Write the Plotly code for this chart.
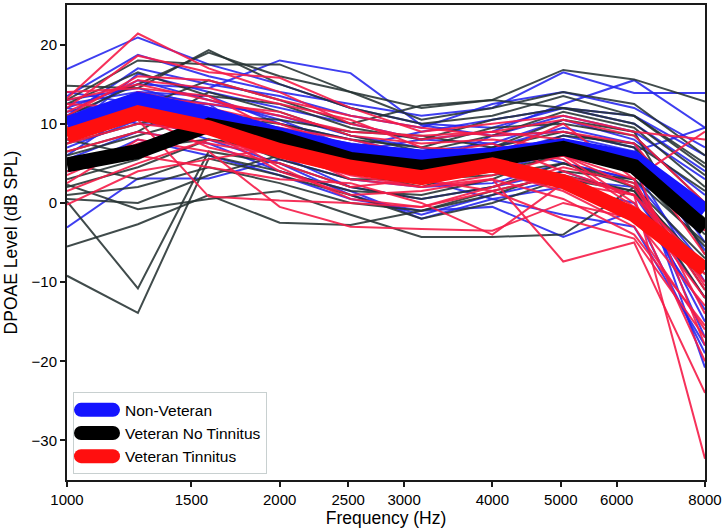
import math
import plotly.graph_objects as go

# Frequencies (Hz), 1/3-octave steps
freqs = [1000, 1260, 1587, 2000, 2520, 3175, 4000, 5040, 6350, 8000]

# Group means (dB SPL)
mean_nonvet = [10.0, 13.1, 11.2, 8.6, 6.6, 5.8, 6.0, 7.2, 5.6, -1.0]
mean_vet_notin = [4.8, 6.5, 9.8, 8.2, 5.5, 4.5, 5.5, 6.9, 4.6, -3.2]
mean_vet_tin = [8.5, 11.4, 9.5, 6.6, 4.5, 3.2, 4.8, 2.7, -1.5, -8.4]

# Individual subjects: Non-Veteran
nonvet_subjects = [
    [16.9, 20.9, 17.5, 15.0, 12.0, 10.0, 9.5, 12.0, 11.0, 6.0],
    [12.0, 15.0, 14.5, 18.0, 16.4, 9.8, 8.5, 11.0, 9.0, 3.0],
    [13.5, 18.7, 16.0, 14.0, 12.5, 11.0, 12.0, 16.5, 13.9, 13.9],
    [11.0, 17.0, 15.0, 13.5, 11.0, 9.5, 12.5, 14.0, 12.0, 7.0],
    [9.0, 16.3, 14.0, 12.0, 10.0, 8.0, 9.0, 12.5, 15.5, 9.5],
    [-3.1, 3.1, 3.1, 5.5, 3.0, 2.0, 2.5, 5.0, 3.0, -8.0],
    [7.0, 10.5, 9.0, 6.0, 2.0, 0.5, 2.0, 4.0, 1.0, -12.0],
    [12.5, 14.0, 13.5, 10.0, 8.0, 6.0, 7.0, 9.5, 7.5, -5.0],
    [6.0, 12.0, 12.5, 11.0, 8.5, 7.0, 5.0, 8.0, 6.0, -3.0],
    [10.5, 15.5, 13.0, 10.5, 7.0, 4.0, 5.5, 6.0, 4.5, -10.0],
    [8.0, 11.0, 8.0, 5.0, 1.0, -1.5, 1.0, 3.0, 2.0, -15.0],
    [4.0, 8.0, 6.0, 3.5, 0.5, -1.0, -0.5, -4.3, -1.0, -19.0],
    [13.0, 14.5, 12.0, 9.0, 7.5, 6.5, 7.5, 10.5, 8.0, 1.0],
    [11.5, 13.0, 11.0, 8.0, 5.0, 3.5, 4.0, 6.5, 5.0, -20.8],
    [9.5, 13.5, 10.0, 7.5, 6.0, 5.5, 6.0, 8.5, 6.5, 9.5],
    [7.5, 12.5, 10.5, 8.5, 6.5, 8.0, 7.5, 5.0, 3.0, -17.0],
    [12.0, 10.0, 9.5, 7.0, 4.5, 3.0, 0.5, 2.0, 0.0, -13.5],
    [10.0, 14.0, 12.5, 6.5, 5.5, 4.5, 8.5, 9.0, 7.0, -6.0],
    [14.0, 12.5, 10.5, 9.5, 7.0, 9.0, 10.5, 12.0, 10.0, 4.0],
    [5.5, 9.0, 7.5, 4.0, 1.5, -2.0, 0.5, -1.5, -3.0, -18.0],
]

# Individual subjects: Veteran No Tinnitus
vet_notin_subjects = [
    [-9.2, -13.9, 5.6, 3.5, 1.0, -2.0, 0.0, 3.0, 1.5, -12.0],
    [0.2, -10.8, 6.5, 5.0, 2.0, 0.5, 2.0, 5.0, 2.0, -9.0],
    [-5.5, -2.7, 1.0, -2.5, -2.8, -1.0, 1.0, 4.0, 3.0, -5.0],
    [2.3, -0.8, 0.5, 1.5, -1.5, -4.3, -4.3, -4.0, 2.0, -7.0],
    [14.8, 14.5, 19.3, 15.0, 12.0, 10.0, 11.0, 13.5, 11.0, 5.0],
    [13.0, 18.0, 17.5, 17.5, 14.0, 12.0, 13.0, 16.8, 15.6, 12.8],
    [11.0, 15.0, 19.0, 16.0, 14.0, 10.5, 12.0, 14.0, 12.5, 6.0],
    [4.0, 7.0, 8.0, 6.5, 4.0, 2.0, 5.0, 8.0, 6.0, -2.0],
    [7.5, 10.0, 12.0, 9.0, 6.0, 5.0, 7.0, 9.0, 7.0, -1.0],
    [2.0, 4.5, 8.0, 7.0, 4.5, 3.5, 4.0, 6.0, 4.0, -5.5],
    [6.5, 9.0, 14.0, 11.5, 8.5, 6.5, 8.5, 11.5, 9.5, 2.0],
    [9.0, 12.0, 15.5, 13.0, 10.0, 12.3, 13.0, 12.0, 10.0, 3.5],
    [5.0, 3.0, 6.0, 4.0, 1.5, 1.0, 3.0, 6.5, 5.0, -4.0],
    [3.0, 5.5, 10.0, 8.0, 6.5, 5.5, 5.5, 7.0, 4.5, -3.5],
    [10.5, 13.0, 11.0, 10.0, 8.0, 7.0, 9.5, 10.0, 8.5, 0.0],
    [1.0, 2.0, 4.5, 2.5, 0.0, -1.0, 1.5, 3.5, 1.5, -8.0],
    [12.5, 16.5, 13.5, 12.5, 9.5, 8.0, 10.5, 12.0, 11.0, 4.5],
    [8.0, 6.0, 9.0, 5.5, 3.0, 3.0, 3.5, 5.0, 2.5, -11.0],
    [6.0, 8.5, 11.0, 10.5, 9.0, 8.5, 7.0, 10.5, 9.0, -6.5],
    [0.5, 0.0, 3.5, 6.0, 5.0, 4.0, 5.5, 8.5, 7.5, 1.5],
]

# Individual subjects: Veteran Tinnitus
vet_tin_subjects = [
    [13.2, 21.4, 17.0, 14.0, 10.0, 8.0, 9.0, 10.5, 8.5, 0.0],
    [12.0, 18.6, 16.5, 15.8, 12.0, 9.0, 10.0, 11.0, 9.0, 8.0],
    [-0.2, 4.0, 5.5, 7.0, 5.5, 4.0, 5.0, 6.0, 3.0, -14.0],
    [10.0, 10.5, 0.8, 0.3, 0.0, -0.5, 1.5, 3.5, 1.0, -10.0],
    [1.5, 5.0, 8.0, 6.0, 3.5, 2.0, 3.0, -7.4, -5.0, -24.0],
    [8.0, 12.0, 11.0, 9.5, 8.0, 6.0, 7.5, 4.0, 1.0, -32.3],
    [13.0, 15.0, 13.0, 11.0, 9.0, 8.5, 9.0, 8.0, 5.0, -18.0],
    [6.5, 9.0, 7.5, 6.0, 4.0, 2.5, 4.0, 1.5, -3.0, -16.0],
    [9.5, 14.0, 12.0, 10.0, 7.0, 6.5, 6.0, 10.0, 3.0, 9.0],
    [2.5, 8.0, 6.5, -0.5, -3.0, -3.3, -3.5, 0.0, -2.0, -13.0],
    [11.5, 15.5, 14.5, 12.5, 10.5, 7.0, 6.5, 6.0, 2.0, -11.0],
    [5.0, 7.0, 10.0, 8.5, 5.5, 4.5, 6.5, 5.5, -0.5, -20.0],
    [14.0, 14.5, 13.5, 9.0, 6.5, 4.5, 5.0, 2.0, -1.5, -9.0],
    [7.5, 10.0, 9.0, 4.0, 1.0, 1.5, 3.0, 0.5, -4.0, -15.5],
    [12.5, 12.0, 10.0, 7.0, 3.0, 2.0, 3.5, 6.0, 0.0, -12.0],
    [4.0, 6.0, 4.5, 3.0, 2.5, 0.0, -4.0, 2.5, 1.0, -8.0],
    [10.5, 13.5, 12.5, 11.5, 8.5, 7.5, 8.0, 7.0, 6.0, -6.5],
    [9.0, 11.0, 7.0, 5.0, 2.0, 3.0, 1.5, -2.0, -4.5, -17.0],
    [3.5, 7.5, 9.5, 4.5, 0.5, -0.5, 2.0, 4.5, 2.5, -10.5],
    [11.0, 16.0, 15.5, 13.0, 11.0, 9.5, 8.5, 9.0, 7.5, -3.5],
]

group_names = ["Non-Veteran", "Veteran No Tinnitus", "Veteran Tinnitus"]
thin_colors = ["rgba(35,35,238,0.88)", "rgba(38,50,50,0.88)", "rgba(245,28,72,0.9)"]
mean_colors = ["#1414ff", "#000000", "#ff0f0f"]

x_ticks = [1000, 1500, 2000, 2500, 3000, 4000, 5000, 6000, 8000]
y_ticks = [-30, -20, -10, 0, 10, 20]

fig = go.Figure()

for subjects, col in zip([nonvet_subjects, vet_notin_subjects, vet_tin_subjects], thin_colors):
    for s in subjects:
        fig.add_trace(go.Scatter(x=freqs, y=s, mode="lines",
                                 line=dict(color=col, width=2),
                                 showlegend=False, hoverinfo="skip"))

for name, m, col in zip(group_names, [mean_nonvet, mean_vet_notin, mean_vet_tin], mean_colors):
    fig.add_trace(go.Scatter(x=freqs, y=m, mode="lines", name=name,
                             line=dict(color=col, width=15)))

font_family = "Liberation Sans, Arial, sans-serif"

fig.update_layout(
    width=725, height=531,
    margin=dict(l=67, r=19, t=3, b=51),
    paper_bgcolor="white", plot_bgcolor="white",
    font=dict(family=font_family, size=15, color="black"),
    showlegend=True,
    legend=dict(x=0.0094, y=0.012, xanchor="left", yanchor="bottom",
                bordercolor="#c8d0d0", borderwidth=1, bgcolor="white",
                font=dict(size=15.5), itemwidth=41, tracegroupgap=0),
    xaxis=dict(type="log", range=[math.log10(1000), math.log10(8000)],
               tickvals=x_ticks, ticktext=[str(v) for v in x_ticks],
               showgrid=False, zeroline=False, showline=True, linecolor="#1a1a1a",
               linewidth=2, mirror=True, ticks="outside", ticklen=5, tickwidth=1.5,
               tickcolor="#1a1a1a",
               title=dict(text="Frequency (Hz)", font=dict(size=17.5), standoff=5)),
    yaxis=dict(range=[-35, 25], tickvals=y_ticks,
               showgrid=False, zeroline=False, showline=True, linecolor="#1a1a1a",
               linewidth=2, mirror=True, ticks="outside", ticklen=5, tickwidth=1.5,
               tickcolor="#1a1a1a",
               title=dict(text="DPOAE Level (dB SPL)", font=dict(size=17.5), standoff=9)),
)

post = """
document.body.style.margin = '0';
document.querySelectorAll('.legend .traces').forEach(function(g){
  var t = g.querySelector('.legendtext');
  var p = g.querySelector('.legendlines path');
  if (!t || !p) return;
  var tx = parseFloat(t.getAttribute('x')) || 40;
  p.setAttribute('d', 'M' + (tx - 44) + ',0h32');
  p.style.strokeWidth = '14px';
  p.style.strokeLinecap = 'round';
});
"""

fig.write_html("out.html", post_script=post, config={"displayModeBar": False})
